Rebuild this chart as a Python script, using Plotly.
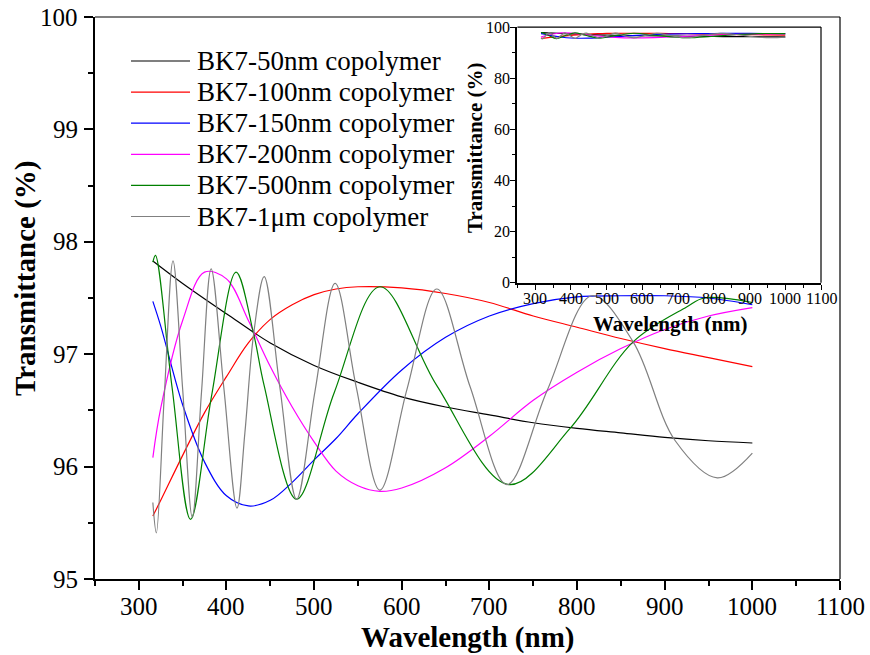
import plotly.graph_objects as go

# Wavelength (nm) / transmittance (%) readings for each coated BK7 sample
wl_50 = [316, 350, 400, 450, 500, 550, 600, 650, 700, 750, 800, 850, 900, 950, 1000]
t_50 = [97.83, 97.63, 97.36, 97.10, 96.90, 96.75, 96.62, 96.53, 96.46, 96.39, 96.34, 96.30, 96.26, 96.23, 96.21]

wl_100 = [316, 325, 350, 375, 400, 425, 450, 475, 500, 525, 550, 600, 650, 700, 750, 800, 850, 900, 950, 1000]
t_100 = [95.56, 95.70, 96.10, 96.48, 96.80, 97.10, 97.31, 97.44, 97.53, 97.58, 97.60, 97.59, 97.54, 97.46, 97.34, 97.24, 97.14, 97.05, 96.97, 96.89]

wl_150 = [316, 325, 350, 375, 400, 425, 450, 475, 500, 525, 550, 600, 650, 700, 750, 800, 850, 900, 950, 1000]
t_150 = [97.47, 97.25, 96.55, 96.04, 95.74, 95.65, 95.70, 95.86, 96.06, 96.25, 96.47, 96.86, 97.15, 97.34, 97.45, 97.51, 97.52, 97.52, 97.50, 97.44]

wl_200 = [316, 325, 350, 375, 400, 425, 450, 475, 500, 525, 550, 575, 600, 650, 700, 750, 800, 850, 900, 950, 1000]
t_200 = [96.08, 96.52, 97.30, 97.73, 97.67, 97.30, 96.89, 96.53, 96.22, 95.96, 95.83, 95.78, 95.81, 95.99, 96.27, 96.59, 96.84, 97.05, 97.22, 97.34, 97.415]

wl_500 = [316, 319, 338, 359, 383, 411, 431, 443, 480, 523, 575, 640, 722, 792, 864, 925, 945, 1000]
t_500 = [97.82, 97.88, 96.70, 95.53, 96.63, 97.73, 97.18, 96.72, 95.71, 96.66, 97.60, 96.72, 95.84, 96.34, 97.11, 97.42, 97.50, 97.46]

wl_1um = [316, 320, 329, 339, 350, 361, 371.5, 382.5, 397, 412, 421, 431, 443, 461, 480, 501, 524, 548, 575, 606, 640, 678, 720, 766, 817, 864, 912, 960, 1000]
t_1um = [95.68, 95.41, 96.62, 97.83, 96.69, 95.55, 96.66, 97.76, 96.70, 95.63, 96.30, 97.18, 97.69, 96.70, 95.71, 96.67, 97.63, 96.71, 95.79, 96.69, 97.58, 96.71, 95.84, 96.68, 97.52, 97.11, 96.23, 95.90, 96.12]

names = ["BK7-50nm copolymer", "BK7-100nm copolymer", "BK7-150nm copolymer",
         "BK7-200nm copolymer", "BK7-500nm copolymer", "BK7-1μm copolymer"]
colors = ["#000000", "#FF0000", "#0000FF", "#FF00FF", "#008000", "#808080"]
series = [(wl_50, t_50), (wl_100, t_100), (wl_150, t_150),
          (wl_200, t_200), (wl_500, t_500), (wl_1um, t_1um)]

# tick values for both panels
x_ticks = [300, 400, 500, 600, 700, 800, 900, 1000, 1100]
y_ticks_main = [95, 96, 97, 98, 99, 100]
y_ticks_inset = [0, 20, 40, 60, 80, 100]

FONT = "Liberation Serif"
W, H = 870, 655
ML, MR, MT, MB = 95, 30, 17, 76
PW, PH = W - ML - MR, H - MT - MB


def px_x(px):
    return (px - ML) / PW


def px_y(py):
    return (H - MB - py) / PH


def tfont(size):
    return dict(size=size, family=FONT, color="black")


fig = go.Figure()

# main panel
for name, color, (x, y) in zip(names, colors, series):
    fig.add_trace(go.Scatter(x=x, y=y, name=name, mode="lines", showlegend=False,
                             line=dict(color=color, width=1.2, shape="spline", smoothing=1.0),
                             xaxis="x", yaxis="y"))

# inset: same spectra on a full 0-100 % scale
for name, color, (x, y) in zip(names, colors, series):
    fig.add_trace(go.Scatter(x=x, y=y, name=name, mode="lines", showlegend=False,
                             line=dict(color=color, width=1.2, shape="spline", smoothing=1.0),
                             xaxis="x2", yaxis="y2"))

axis_common = dict(showgrid=False, zeroline=False, showline=True, linecolor="black",
                   ticks="outside", tickcolor="black", showticklabels=False)

fig.update_layout(
    width=W, height=H,
    margin=dict(l=ML, r=MR, t=MT, b=MB, autoexpand=False),
    paper_bgcolor="white", plot_bgcolor="white",
    font=dict(family=FONT, color="black"),
    xaxis=dict(**axis_common, domain=[0, 1], range=[250, 1100], tickvals=x_ticks,
               linewidth=2.2, ticklen=9, tickwidth=1.5,
               minor=dict(ticks="outside", dtick=50, tick0=250, ticklen=5, tickwidth=1.5, tickcolor="black")),
    yaxis=dict(**axis_common, domain=[0, 1], range=[95, 100], tickvals=y_ticks_main,
               linewidth=2.2, ticklen=9, tickwidth=1.5,
               minor=dict(ticks="outside", dtick=0.5, ticklen=5, tickwidth=1.5, tickcolor="black")),
    xaxis2=dict(**axis_common, domain=[0.567, 0.9745], range=[250, 1100], tickvals=x_ticks,
                anchor="y2", linewidth=2, ticklen=5, tickwidth=1.2,
                minor=dict(ticks="outside", dtick=50, tick0=250, ticklen=3, tickwidth=1.2, tickcolor="black")),
    yaxis2=dict(**axis_common, domain=[0.527, 0.982], range=[0, 100], tickvals=y_ticks_inset,
                anchor="x2", linewidth=2, ticklen=5, tickwidth=1.2,
                minor=dict(ticks="outside", dtick=10, ticklen=3, tickwidth=1.2, tickcolor="black")),
    showlegend=False,
)

# thin top/right frame lines for both panels
for xr, yr in [("x domain", "y domain"), ("x2 domain", "y2 domain")]:
    fig.add_shape(type="line", xref=xr, yref=yr, x0=0, x1=1, y0=1, y1=1,
                  line=dict(color="black", width=1.2))
    fig.add_shape(type="line", xref=xr, yref=yr, x0=1, x1=1, y0=0, y1=1,
                  line=dict(color="black", width=1.2))


def label(text, x, y, xref="paper", yref="paper", size=25, xanchor="center", angle=0):
    fig.add_annotation(text=text, x=x, y=y, xref=xref, yref=yref, showarrow=False,
                       xanchor=xanchor, yanchor="middle", textangle=angle,
                       font=tfont(size), borderpad=0)


# tick labels, main panel
for v in x_ticks:
    label(str(v), v, px_y(606), xref="x", size=25)
for v in y_ticks_main:
    label(str(v), px_x(79), v, yref="y", size=25, xanchor="right")

# tick labels, inset
for v in x_ticks:
    label(str(v), v, px_y(298), xref="x2", size=16)
for v in y_ticks_inset:
    label(str(v), px_x(511), v, yref="y2", size=16, xanchor="right")

# axis titles
label("<b>Wavelength (nm)</b>", px_x(467.5), px_y(637), size=29)
label("<b>Transmittance (%)</b>", px_x(25), px_y(279), size=29, angle=-90)
label("<b>Wavelength (nm)</b>", px_x(670), px_y(324), size=21)
label("<b>Transmittance (%)</b>", px_x(475), px_y(148), size=21, angle=-90)

# key: short line sample followed by the series name, one row per sample
row0, row_gap = 61, 31.1
for i, (name, color) in enumerate(zip(names, colors)):
    yy = px_y(row0 + i * row_gap)
    fig.add_shape(type="line", xref="paper", yref="paper",
                  x0=px_x(131), x1=px_x(190), y0=yy, y1=yy,
                  line=dict(color=color, width=1.2))
    label(name, px_x(196), yy, size=27, xanchor="left")

fig.write_html("out.html")
